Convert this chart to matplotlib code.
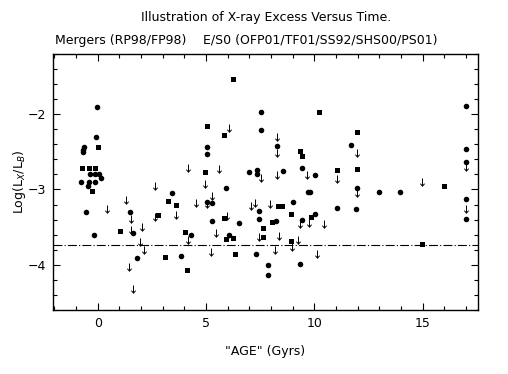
import matplotlib.pyplot as plt
from matplotlib.path import Path
from matplotlib.ticker import MultipleLocator

# detections (circles)
circ_x = [-0.05, -0.06, -0.62, -0.69, -0.66, -0.34, -0.11, 0.05, 0.14, -0.78, -0.42, -0.14, -0.44, -0.54, -0.15,
          1.51, 1.63, 1.83, 3.42, 3.85, 4.31,
          7.55, 7.55, 5.06, 5.06, 8.26, 7.34, 7.34, 6.97, 8.55, 9.45, 10.05, 5.94, 9.70, 9.78, 5.06, 5.28, 7.43,
          9.02, 11.06, 10.05, 9.43, 5.26, 6.54, 7.43, 8.25, 6.05, 7.32, 9.35, 7.85, 7.85,
          11.69, 11.98, 12.98, 13.97, 11.9, 17.0, 17.0, 17.0, 17.0, 17.0]
circ_y = [-1.90, -2.30, -2.44, -2.47, -2.50, -2.79, -2.79, -2.79, -2.85, -2.90, -2.90, -2.90, -2.95, -3.30, -3.60,
          -3.30, -3.58, -3.91, -3.05, -3.88, -3.61,
          -1.97, -2.21, -2.44, -2.53, -2.42, -2.74, -2.79, -2.77, -2.75, -2.72, -2.81, -2.98, -3.04, -3.04, -3.16, -3.18, -3.29,
          -3.17, -3.25, -3.32, -3.40, -3.42, -3.45, -3.39, -3.42, -3.60, -3.86, -3.99, -4.00, -4.14,
          -2.41, -2.98, -3.04, -3.04, -3.26, -1.89, -2.46, -2.63, -3.12, -3.39]

# detections (squares)
sq_x = [0.0, -0.74, -0.38, -0.11, -0.26, 1.05, 2.8, 3.23, 3.63, 3.12, 4.05, 4.14,
        6.26, 10.23, 5.06, 5.85, 9.35, 9.45, 4.97, 11.06, 8.33, 8.5, 8.92, 5.85, 9.85, 7.63, 8.06, 5.94, 6.25,
        7.63, 8.92, 6.35, 11.98, 11.98, 15.98, 14.97]
sq_y = [-2.44, -2.71, -2.71, -2.71, -3.02, -3.55, -3.34, -3.15, -3.20, -3.89, -3.57, -4.07,
        -1.54, -1.97, -2.16, -2.28, -2.49, -2.56, -2.77, -2.74, -3.22, -3.22, -3.32, -3.38, -3.37, -3.51, -3.43, -3.66, -3.65,
        -3.63, -3.69, -3.86, -2.24, -2.73, -2.95, -3.73]

# upper limits (arrows)
lim_x = [4.15, 2.66, 1.31, 0.45, 1.52, 2.65, 3.62, 4.54, 2.05, 1.52, 1.95, 2.12, 4.17, 1.43, 1.63,
         6.05, 8.26, 8.26, 5.58, 7.54, 8.26, 9.66, 11.06, 4.97, 5.28, 5.06, 7.08, 7.24, 7.94, 5.95, 9.32,
         9.75, 10.43, 5.48, 7.43, 8.37, 9.23, 8.95, 5.25, 8.17, 10.14,
         11.98, 11.98, 14.97, 17.0, 17.0]
lim_y = [-2.66, -2.90, -3.09, -3.20, -3.34, -3.31, -3.28, -3.13, -3.44, -3.49, -3.65, -3.75, -3.62, -3.97, -4.27,
         -2.13, -2.25, -2.46, -2.67, -2.79, -2.76, -2.75, -2.81, -2.88, -3.03, -3.14, -3.17, -3.12, -3.14, -3.30, -3.40,
         -3.39, -3.41, -3.52, -3.58, -3.56, -3.62, -3.71, -3.77, -3.75, -3.80,
         -2.46, -3.00, -2.85, -2.65, -3.20]

limit_level = -3.74

# down arrow marker anchored at its top
arrow = Path([(0, 0), (0, -1), (-0.28, -0.68), (0, -1), (0.28, -0.68)],
             [Path.MOVETO, Path.LINETO, Path.MOVETO, Path.LINETO, Path.LINETO])

fig = plt.figure(figsize=(5.08, 3.74), dpi=100)
ax = fig.add_axes([0.1043, 0.171, 0.8367, 0.685])

ax.plot(circ_x, circ_y, 'o', color='black', markersize=4.0, markeredgewidth=0)
ax.plot(sq_x, sq_y, 's', color='black', markersize=3.6, markeredgewidth=0)
ax.plot(lim_x, lim_y, linestyle='none', marker=arrow, markersize=11, markerfacecolor='none',
        markeredgecolor='black', markeredgewidth=0.7)
ax.axhline(limit_level, color='black', linewidth=0.8, linestyle=(0, (8, 2, 1, 2)))

ax.set_xlim(-2.06, 17.55)
ax.set_ylim(-4.6, -1.2)
ax.xaxis.set_major_locator(MultipleLocator(5))
ax.xaxis.set_minor_locator(MultipleLocator(1))
ax.yaxis.set_major_locator(MultipleLocator(1))
ax.yaxis.set_minor_locator(MultipleLocator(0.2))
ax.tick_params(which='both', direction='in', top=True, right=True, width=0.8, labelsize=9)
ax.tick_params(which='major', length=5, pad=5)
ax.tick_params(which='minor', length=3)
for s in ax.spines.values():
    s.set_linewidth(1)

ax.set_xlabel('"AGE" (Gyrs)', fontsize=9, labelpad=11)
ax.set_ylabel('Log(L$_X$/L$_B$)', fontsize=9, labelpad=0)

fig.text(0.523, 0.952, 'Illustration of X-ray Excess Versus Time.', ha='center', va='center', fontsize=9)
fig.text(0.108, 0.893, 'Mergers (RP98/FP98)', ha='left', va='center', fontsize=9)
fig.text(0.40, 0.893, 'E/S0 (OFP01/TF01/SS92/SHS00/PS01)', ha='left', va='center', fontsize=9)

fig.savefig('out.png', dpi=100)
